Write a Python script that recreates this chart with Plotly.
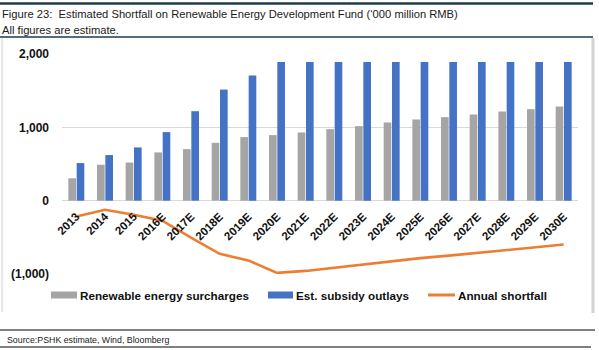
import plotly.graph_objects as go

categories = ["2013", "2014", "2015", "2016E", "2017E", "2018E", "2019E", "2020E", "2021E",
              "2022E", "2023E", "2024E", "2025E", "2026E", "2027E", "2028E", "2029E", "2030E"]
surcharges = [305, 490, 520, 658, 703, 789, 867, 894, 930, 975, 1016, 1066, 1107, 1139, 1175, 1216, 1248, 1284]
outlays = [513, 622, 726, 935, 1220, 1515, 1706, 1890, 1890, 1890, 1890, 1890, 1890, 1890, 1890, 1890, 1890, 1890]
shortfall = [-215, -125, -192, -272, -505, -725, -815, -985, -958, -915, -875, -825, -783, -750, -713, -672, -638, -598]
y_tickvals = [-1000, 0, 1000, 2000]
y_ticktext = ["(1,000)", "0", "1,000", "2,000"]

W, H = 599, 350
L, R, T, B = 62, 21, 54, 76
PW, PH = W - L - R, H - T - B


def px(x):
    return (x - L) / PW


def py(y):
    return (H - B - y) / PH


GRAY = "#a5a5a5"
BLUE = "#4472c4"
ORANGE = "#ed7d31"
FONT = "Liberation Sans"

fig = go.Figure()
fig.add_trace(go.Bar(x=categories, y=surcharges, name="Renewable energy surcharges",
                     marker=dict(color=GRAY, line=dict(width=0))))
fig.add_trace(go.Bar(x=categories, y=outlays, name="Est. subsidy outlays",
                     marker=dict(color=BLUE, line=dict(width=0))))
fig.add_trace(go.Scatter(x=categories, y=shortfall, name="Annual shortfall", mode="lines",
                         line=dict(color=ORANGE, width=2.6)))

fig.update_layout(
    width=W, height=H,
    margin=dict(l=L, r=R, t=T, b=B),
    paper_bgcolor="white", plot_bgcolor="white",
    barmode="group", bargap=0.42, bargroupgap=0.08,
    showlegend=False,
    font=dict(family=FONT, color="#000000"),
)
fig.update_yaxes(
    range=[-1000, 2000], tickvals=y_tickvals, ticktext=y_ticktext,
    showgrid=True, gridcolor="#d9d9d9", gridwidth=1,
    zeroline=True, zerolinecolor="#d9d9d9", zerolinewidth=1,
    showline=False, ticks="", ticklabelstandoff=12,
    tickfont=dict(family=FONT, size=12, color="#111111", weight="bold"),
    fixedrange=True,
)
fig.update_xaxes(
    type="category", anchor="free", position=1 / 3,
    showgrid=False, showline=False, zeroline=False, ticks="",
    tickangle=-45, ticklabelstandoff=6,
    tickfont=dict(family=FONT, size=11.5, color="#111111", weight="bold"),
    fixedrange=True,
)

shapes = []
NAVY = "#1f3b4d"
# header lines
shapes.append(dict(type="line", xref="paper", yref="paper", x0=px(0), x1=px(593), y0=py(3.5), y1=py(3.5),
                   line=dict(color=NAVY, width=2.5)))
shapes.append(dict(type="line", xref="paper", yref="paper", x0=px(0), x1=px(593), y0=py(37), y1=py(37),
                   line=dict(color=NAVY, width=1.5)))
# chart box borders
shapes.append(dict(type="line", xref="paper", yref="paper", x0=px(2), x1=px(2), y0=py(38), y1=py(312),
                   line=dict(color="#d0d0d0", width=1)))
shapes.append(dict(type="line", xref="paper", yref="paper", x0=px(593), x1=px(593), y0=py(38), y1=py(313),
                   line=dict(color="#d4d4d4", width=3)))
# source lines
shapes.append(dict(type="line", xref="paper", yref="paper", x0=px(0), x1=px(595), y0=py(330), y1=py(330),
                   line=dict(color="#000000", width=1)))
shapes.append(dict(type="line", xref="paper", yref="paper", x0=px(0), x1=px(591), y0=py(347), y1=py(347),
                   line=dict(color="#000000", width=1)))
# legend swatches
shapes.append(dict(type="rect", xref="paper", yref="paper", x0=px(51), x1=px(77), y0=py(298.5), y1=py(291.5),
                   fillcolor=GRAY, line=dict(width=0)))
shapes.append(dict(type="rect", xref="paper", yref="paper", x0=px(268), x1=px(293), y0=py(298.5), y1=py(291.5),
                   fillcolor=BLUE, line=dict(width=0)))
shapes.append(dict(type="line", xref="paper", yref="paper", x0=px(428), x1=px(455), y0=py(295), y1=py(295),
                   line=dict(color=ORANGE, width=3)))

annotations = []
def text(s, x, y, size, weight="normal", color="#1a1a1a"):
    annotations.append(dict(text=s, xref="paper", yref="paper", x=px(x), y=py(y), xanchor="left",
                            yanchor="middle", showarrow=False,
                            font=dict(family=FONT, size=size, color=color, weight=weight)))

text("Figure 23:  Estimated Shortfall on Renewable Energy Development Fund (\u2018000 million RMB)", 0, 14, 11.2)
text("All figures are estimate.", 0, 29.5, 11.2)
text("Renewable energy surcharges", 78, 295, 11.7, "bold", "#111111")
text("Est. subsidy outlays", 294, 295, 11.7, "bold", "#111111")
text("Annual shortfall", 456, 295, 11.7, "bold", "#111111")
text("Source:PSHK estimate, Wind, Bloomberg", 5, 340, 8.8)

fig.update_layout(shapes=shapes, annotations=annotations)
fig.write_html("out.html")
